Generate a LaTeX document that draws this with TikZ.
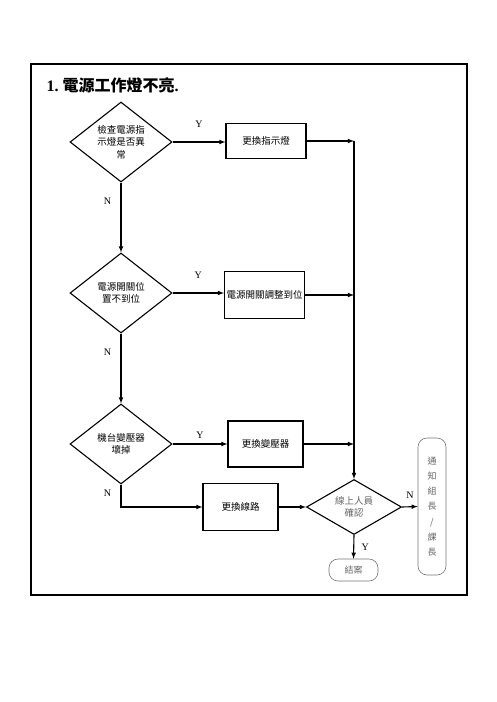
\documentclass[tikz,border=0pt]{standalone}
\usepackage{fontspec}
\setmainfont{Liberation Serif}
\newfontfamily\cjk{Noto Sans CJK TC}
\usetikzlibrary{shapes.geometric}

\begin{document}
\begin{tikzpicture}[x=1pt, y=-1pt, >=latex,
    dia/.style={draw, line width=1.1pt, shape=diamond, aspect=1.275, minimum width=102pt, minimum height=80pt, inner sep=0pt, align=center, font=\cjk\fontsize{9.5}{12.5}\selectfont},
    box/.style={draw, line width=1.1pt, inner sep=2pt, align=center, font=\cjk\fontsize{9.5}{12}\selectfont},
    soft/.style={draw=black!55, line width=0.6pt, rounded corners=9pt, inner sep=0pt, text=black!60, align=center, font=\cjk\fontsize{9}{15.3}\selectfont},
    yn/.style={font=\fontsize{10}{12}\selectfont},
    flow/.style={->, line width=1.1pt}]
        \useasboundingbox (0,0) rectangle (496,702);
        \draw[line width=1.3pt] (31,64) rectangle (467,595);
        \node[anchor=west, font=\bfseries\fontsize{16}{18}\selectfont] (title) at (43,85) {1.\ {\cjk 電源工作燈不亮}.};
        % checks on the left
        \node[dia] (d1) at (121,142) {檢查電源指\\示燈是否異\\常};
        \node[dia] (d2) at (121,293) {電源開關位\\置不到位};
        \node[dia] (d3) at (121,444) {機台變壓器\\壞掉};
        % actions
        \node[box, minimum width=80pt, minimum height=35pt] (b1) at (266,141) {更換指示燈};
        \node[box, minimum width=77pt, minimum height=47pt] (b2) at (264.5,295) {電源開關調整到位};
        \node[box, minimum width=75pt, minimum height=46pt] (b3) at (265.5,444) {更換變壓器};
        \node[box, minimum width=75pt, minimum height=47pt] (b4) at (240.5,507) {更換線路};
        \node[dia, minimum width=95pt, minimum height=55pt, aspect=1.73, text=black!60] (d5) at (354,507) {線上人員\\確認};
        \node[soft, minimum width=49pt, minimum height=22pt] (end) at (353.5,570) {結案};
        \node[soft, minimum width=28pt, minimum height=137pt] (tell) at (432,506.5) {通\\知\\組\\長\\/\\課\\長};
        % connectors
        \draw[flow] (d1.east) -- (d1.east -| b1.west) node[yn, midway, above=11pt] (y1) {Y};
        \draw[flow] (d2.east) -- (d2.east -| b2.west) node[yn, midway, above=11pt] (y2) {Y};
        \draw[flow] (d3.east) -- (d3.east -| b3.west) node[yn, midway, above=2pt] (y3) {Y};
        \draw[flow] (d1.south) -- (d2.north) node[yn, pos=0.27, left=6pt] (n1) {N};
        \draw[flow] (d2.south) -- (d3.north) node[yn, pos=0.27, left=6pt] (n2) {N};
        \draw[flow] (d3.south) |- (b4.west) node[yn, pos=0.2, left=6pt] (n3) {N};
        \draw[flow] (b1.east) -- (b1.east -| d5.north);
        \draw[flow] (b2.east) -- (b2.east -| d5.north);
        \draw[flow] (b3.east) -- (b3.east -| d5.north);
        \draw[flow] (b1.east -| d5.north) -- (d5.north);
        \draw[flow] (b4.east) -- (d5.west);
        \draw[flow] (d5.east) -- (tell.west) node[yn, midway, above=4pt] (n5) {N};
        \draw[flow] (d5.south) -- (end.north) node[yn, midway, right=4pt] (y5) {Y};
\end{tikzpicture}
\end{document}
